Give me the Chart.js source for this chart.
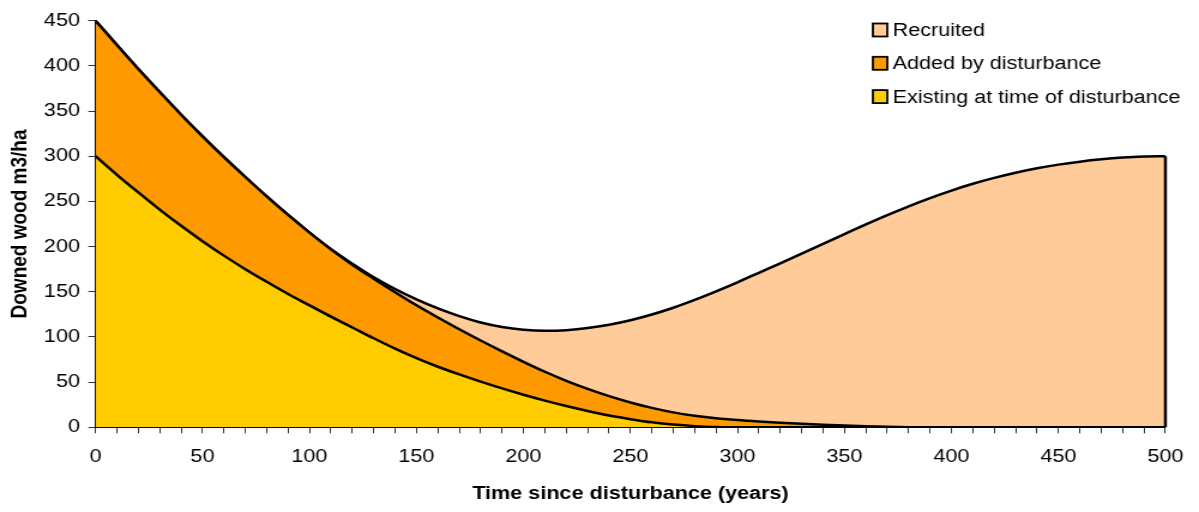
<!DOCTYPE html>
<html>
<head>
<meta charset="utf-8">
<script src="https://cdn.jsdelivr.net/npm/chart.js@4/dist/chart.umd.min.js"></script>
<style>
  html, body { margin: 0; padding: 0; background: #fff; }
</style>
</head>
<body>
<!-- the original picture is stretched sideways, so the canvas is too -->
<canvas id="chart" width="1000" height="512" style="width:1199px;height:512px"></canvas>
<script>
// top edge of each band (m3/ha), every 10 years
const years = [0, 10, 20, 30, 40, 50, 60, 70, 80, 90, 100, 110, 120, 130, 140, 150, 160, 170, 180, 190, 200,
  210, 220, 230, 240, 250, 260, 270, 280, 290, 300, 310, 320, 330, 340, 350, 360, 370, 380, 390, 400,
  410, 420, 430, 440, 450, 460, 470, 480, 490, 500];
const existingLine = [300, 279.5, 260, 241, 223, 206, 190, 175, 161, 147.5, 135, 122.5, 110.5, 98.5, 87, 76.5, 67, 58.5, 50.5, 43, 36,
  29.5, 23.5, 18, 13, 9, 5.5, 3, 1.3, 0.4, 0, 0, 0, 0, 0, 0, 0, 0, 0, 0, 0,
  0, 0, 0, 0, 0, 0, 0, 0, 0, 0];
const addedLine = [450, 423, 396.5, 371, 346, 322, 299, 277, 255.5, 235, 215.5, 197, 180, 164.5, 149.5, 135, 121.5, 108.5, 96, 84, 72.5,
  61.5, 51.5, 42.5, 34.5, 27.5, 21.5, 16.5, 12.8, 10, 8, 6.4, 5, 3.8, 2.8, 1.9, 1.1, 0.5, 0.1, 0, 0,
  0, 0, 0, 0, 0, 0, 0, 0, 0, 0];
const totalLine = [450, 423, 396.5, 371, 346, 322, 299, 277, 255.5, 235, 215.5, 197, 181, 166, 153, 141.5, 131.5, 123, 116, 111, 108,
  106.8, 107.5, 109.8, 113.5, 118.5, 124.8, 132.3, 141, 150.5, 160.5, 171, 181.5, 192.2, 203, 213.8, 224.5, 234.8, 244.6, 253.7, 262,
  269.5, 276, 281.7, 286.6, 290.7, 294, 296.6, 298.5, 299.6, 300];

const seriesNames = ['Existing at time of disturbance', 'Added by disturbance', 'Recruited'];
const seriesColors = ['#FFCC00', '#FF9900', '#FFCC99'];

Chart.defaults.font.family = '"Liberation Sans", Arial, sans-serif';
Chart.defaults.color = '#000';

function points(values) {
  return values.map(function (v, i) { return {x: years[i], y: v}; });
}

// Excel-style legend floating inside the plot, top right
const boxLegend = {
  id: 'boxLegend',
  afterDraw(chart) {
    const ctx = chart.ctx;
    ctx.save();
    ctx.font = '18px "Liberation Sans", Arial, sans-serif';
    ctx.textBaseline = 'middle';
    const rows = [2, 1, 0];
    rows.forEach(function (idx, r) {
      const y = 30 + r * 33.3;
      ctx.fillStyle = seriesColors[idx];
      ctx.fillRect(728, y - 6.5, 12, 13);
      ctx.strokeStyle = '#000';
      ctx.lineWidth = 1.8;
      ctx.strokeRect(728, y - 6.5, 12, 13);
      ctx.fillStyle = '#000';
      ctx.fillText(seriesNames[idx], 744.5, y + 1);
    });
    ctx.restore();
  }
};

// closes the recruited area at the last year like the original outline
const endEdge = {
  id: 'endEdge',
  afterDatasetsDraw(chart) {
    const xs = chart.scales.x, ys = chart.scales.y;
    const last = years.length - 1;
    const ctx = chart.ctx;
    ctx.save();
    ctx.strokeStyle = '#000';
    ctx.lineWidth = 2.5;
    ctx.beginPath();
    ctx.moveTo(xs.getPixelForValue(years[last]), ys.getPixelForValue(totalLine[last]));
    ctx.lineTo(xs.getPixelForValue(years[last]), ys.getPixelForValue(0));
    ctx.stroke();
    ctx.restore();
  }
};

new Chart(document.getElementById('chart'), {
  type: 'line',
  data: {
    datasets: [
      {
        label: seriesNames[0],
        data: points(existingLine),
        backgroundColor: seriesColors[0],
        borderColor: '#000',
        borderWidth: 2.5,
        fill: 'origin',
      },
      {
        label: seriesNames[1],
        data: points(addedLine),
        backgroundColor: seriesColors[1],
        borderColor: '#000',
        borderWidth: 2.5,
        fill: 'origin',
      },
      {
        label: seriesNames[2],
        data: points(totalLine),
        backgroundColor: seriesColors[2],
        borderColor: '#000',
        borderWidth: 2.5,
        fill: 'origin',
      },
    ]
  },
  options: {
    responsive: false,
    devicePixelRatio: 1,
    animation: false,
    events: [],
    elements: {
      point: { radius: 0 },
      line: { cubicInterpolationMode: 'monotone' },
    },
    layout: {
      padding: { left: 0, right: 26.7, top: 20.7, bottom: 0 }
    },
    plugins: {
      legend: { display: false },
      tooltip: { enabled: false },
    },
    scales: {
      x: {
        type: 'linear',
        min: 0,
        max: 500,
        z: 1,
        afterFit: function (scale) { scale.height = 84.7; },
        grid: {
          drawOnChartArea: false,
          drawTicks: true,
          tickLength: 6,
          color: '#333',
        },
        border: { color: '#000', width: 2 },
        ticks: {
          stepSize: 10,
          autoSkip: false,
          maxRotation: 0,
          padding: 13,
          font: { size: 18 },
          callback: function (v) { return v % 50 === 0 ? v : ''; },
        },
        title: {
          display: true,
          text: 'Time since disturbance (years)',
          font: { size: 18, weight: 'bold' },
          padding: { top: 0, bottom: 7 },
        },
      },
      y: {
        min: 0,
        max: 450,
        z: 1,
        afterFit: function (scale) { scale.width = 79.65; },
        grid: {
          drawOnChartArea: false,
          drawTicks: true,
          tickLength: 6,
          color: '#333',
        },
        border: { color: '#000', width: 2 },
        ticks: {
          stepSize: 50,
          padding: 7,
          font: { size: 18 },
        },
        title: {
          display: true,
          text: 'Downed wood m3/ha',
          font: { size: 19, weight: 'bold' },
          padding: { top: 5, bottom: 0 },
        },
      },
    }
  },
  plugins: [endEdge, boxLegend]
});
</script>
</body>
</html>
